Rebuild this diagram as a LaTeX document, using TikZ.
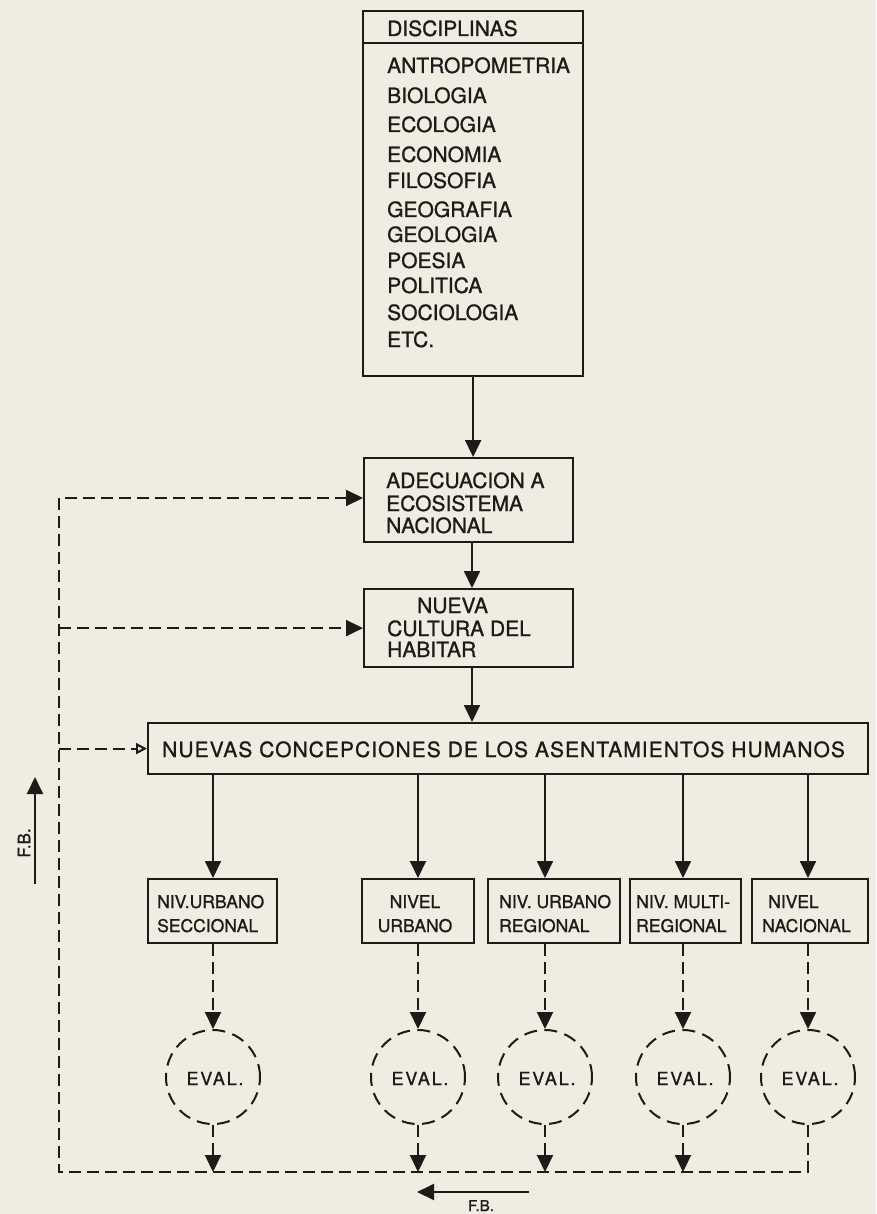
\documentclass[tikz,border=0pt]{standalone}
\usepackage{fontspec}
\setmainfont{TeX Gyre Heros}[FakeBold=1.0]
\newfontfamily\evalfont{TeX Gyre Heros}[LetterSpace=10,FakeBold=1.0]
\newfontfamily\widefont{TeX Gyre Heros}[LetterSpace=5,FakeBold=1.0]
\usetikzlibrary{arrows.meta}
\definecolor{bg}{RGB}{239,236,226}
\definecolor{ink}{RGB}{30,26,24}
\begin{document}
\begin{tikzpicture}[x=1pt,y=-1pt,
  box/.style={draw=ink, line width=2.2pt, inner sep=0pt, anchor=north west},
  lbl/.style={anchor=base west, inner sep=0pt, text=ink, font=\fontsize{21}{22}\selectfont},
  slbl/.style={anchor=base west, inner sep=0pt, text=ink, font=\fontsize{17.5}{18}\selectfont},
  arr/.style={draw=ink, line width=2pt, -{Triangle[length=17pt,width=16pt]}},
  dline/.style={draw=ink, line width=2pt, dash pattern=on 12pt off 6pt},
  darr/.style={dline, -{Triangle[length=17pt,width=16pt]}},
  evalc/.style={circle, draw=ink, line width=2pt, dash pattern=on 13pt off 7.5pt, minimum size=94pt, inner sep=0pt}
]
\fill[bg] (0,0) rectangle (876,1214);
\useasboundingbox (0,0) rectangle (876,1214);

% boxes
\node[box, minimum width=220pt, minimum height=365pt] (disc) at (362,10) {};
\draw[ink, line width=2.2pt] (disc.west |- 0,43) -- (disc.east |- 0,43);
\node[box, minimum width=209pt, minimum height=84pt] (ade) at (363,457) {};
\node[box, minimum width=209pt, minimum height=78pt] (nue) at (363,588) {};
\node[box, minimum width=720pt, minimum height=51pt] (big) at (147,722) {};
\node[box, minimum width=129pt, minimum height=64pt] (b1) at (147,878) {};
\node[box, minimum width=112pt, minimum height=64pt] (b2) at (361,878) {};
\node[box, minimum width=132pt, minimum height=64pt] (b3) at (487,878) {};
\node[box, minimum width=111pt, minimum height=64pt] (b4) at (629,878) {};
\node[box, minimum width=116pt, minimum height=64pt] (b5) at (751,878) {};

% list texts
\node[lbl] (th) at (387,36) {DISCIPLINAS};
\foreach \t/\yy [count=\i] in {ANTROPOMETRIA/73, BIOLOGIA/103, ECOLOGIA/132, ECONOMIA/162, FILOSOFIA/188, GEOGRAFIA/217, GEOLOGIA/242, POESIA/268, POLITICA/293, SOCIOLOGIA/320, ETC./347}
  \node[lbl] (tl\i) at (387,\yy) {\t};

\node[lbl] (a1) at (386,488) {ADECUACION A};
\node[lbl] (a2) at (386,511) {ECOSISTEMA};
\node[lbl] (a3) at (386,533) {NACIONAL};
\node[lbl] (n1) at (417,613) {NUEVA};
\node[lbl] (n2) at (387,636) {CULTURA DEL};
\node[lbl] (n3) at (387,657) {HABITAR};
\node[lbl] (bt) at (162,757) {\widefont NUEVAS CONCEPCIONES DE LOS ASENTAMIENTOS HUMANOS};

\node[slbl] (s11) at (157,908) {NIV.URBANO};
\node[slbl] (s12) at (157,932) {SECCIONAL};
\node[slbl, anchor=base] (s21) at (415,908) {NIVEL};
\node[slbl, anchor=base] (s22) at (415,932) {URBANO};
\node[slbl] (s31) at (499,908) {NIV. URBANO};
\node[slbl] (s32) at (499,932) {REGIONAL};
\node[slbl] (s41) at (636,908) {NIV. MULTI-};
\node[slbl] (s42) at (636,932) {REGIONAL};
\node[slbl] (s51) at (768,908) {NIVEL};
\node[slbl] (s52) at (762,932) {NACIONAL};

% columns
\coordinate (k0) at (472,0);
\coordinate (k1) at (213,0);
\coordinate (k2) at (418,0);
\coordinate (k3) at (545,0);
\coordinate (k4) at (683,0);
\coordinate (k5) at (808,0);

% eval circles
\foreach \i in {1,...,5}{
  \node[evalc] (e\i) at (k\i |- 0,1077) {};
  \node[anchor=base, inner sep=0pt, text=ink, font=\fontsize{18}{18}\evalfont] (ev\i) at ([xshift=2pt]k\i |- 0,1085) {EVAL.};
}

% main arrows
\draw[arr] (disc.south) -- (disc.south |- ade.north);
\draw[arr] (ade.south -| k0) -- (nue.north -| k0);
\draw[arr] (nue.south -| k0) -- (big.north -| k0);
\foreach \i in {1,...,5}{
  \draw[arr] (big.south -| k\i) -- (b\i.north -| k\i);
  \draw[darr] (b\i.south -| k\i) -- (e\i.north);
}

% feedback
\coordinate (bl) at (59,1172);
\coordinate (tlc) at (59,498);
\foreach \i in {1,...,4}{
  \draw[darr] (e\i.south) -- (e\i.south |- bl);
}
\draw[darr] (e5.south) |- (bl) -- (tlc) -- (tlc -| ade.west);
\draw[darr] (tlc |- nue.west) -- (nue.west);
\draw[dline, -{Triangle[open,length=11pt,width=11pt]}] (tlc |- big.west) -- (big.west);

% F.B. arrows
\coordinate (fbA) at (35,884);
\coordinate (fbB) at (35,777);
\draw[arr] (fbA) -- (fbB);
\node[rotate=90, inner sep=0pt, text=ink, font=\fontsize{17}{17}\selectfont] (fbl) at (24,843) {F.B.};
\coordinate (fbC) at (529,1192);
\coordinate (fbD) at (417,1192);
\draw[arr] (fbC) -- (fbD);
\node[anchor=base, inner sep=0pt, text=ink, font=\fontsize{15}{15}\selectfont] (fbb) at (481,1211) {F.B.};
\end{tikzpicture}
\end{document}
